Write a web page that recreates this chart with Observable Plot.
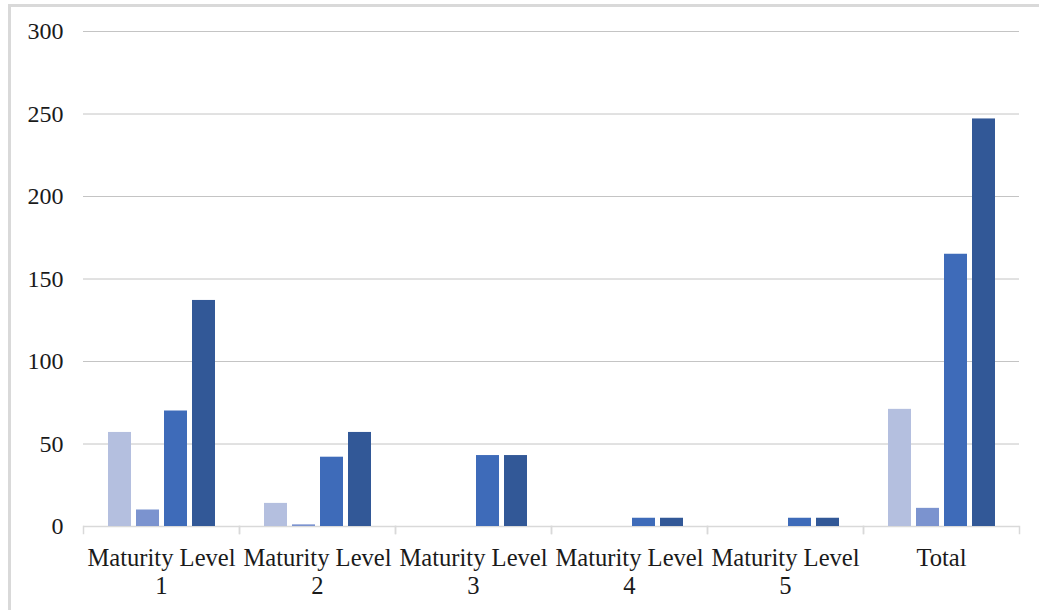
<!DOCTYPE html>
<html>
<head>
<meta charset="utf-8">
<script src="https://cdn.jsdelivr.net/npm/d3@7"></script>
<script src="https://cdn.jsdelivr.net/npm/@observablehq/plot@0.6"></script>
<style>
  html, body { margin: 0; padding: 0; background: #fff; overflow: hidden; }
  #wrap { position: relative; width: 1039px; height: 610px; }
  #border { position: absolute; left: 8px; top: 4px; width: 1100px; height: 700px;
            border-left: 3px solid #d9d9d9; border-top: 3px solid #d9d9d9; box-sizing: border-box; }
  #chart { position: absolute; left: 0; top: 0; }
</style>
</head>
<body>
<div id="wrap"><div id="border"></div><div id="chart"></div></div>
<script>
const categories = ["Maturity Level 1", "Maturity Level 2", "Maturity Level 3", "Maturity Level 4", "Maturity Level 5", "Total"];
const seriesNames = ["Series 1", "Series 2", "Series 3", "Series 4"];
const series1 = [57, 14, 0, 0, 0, 71];
const series2 = [10, 1, 0, 0, 0, 11];
const series3 = [70, 42, 43, 5, 5, 165];
const series4 = [137, 57, 43, 5, 5, 247];
const colors = ["#b4bfdf", "#7b93cf", "#3e6bb9", "#325897"];
const yTicks = [0, 50, 100, 150, 200, 250, 300];

const allSeries = [series1, series2, series3, series4];
const data = [];
categories.forEach((c, i) => {
  allSeries.forEach((s, j) => {
    data.push({category: c, series: seriesNames[j], value: s[i]});
  });
});

const font = "'Liberation Serif', 'Times New Roman', serif";

const chart = Plot.plot({
  width: 1039,
  height: 610,
  marginLeft: 82,
  marginRight: 19,
  marginTop: 31,
  marginBottom: 84,
  style: {fontFamily: font, background: "transparent", color: "#1a1a1a"},
  fx: {domain: categories, padding: 0, label: null},
  x: {domain: seriesNames, paddingInner: 0.19, paddingOuter: 0.84, axis: null},
  y: {domain: [0, 300], label: null},
  color: {domain: seriesNames, range: colors},
  marks: [
    Plot.gridY(yTicks, {stroke: "#c4c4c4", strokeOpacity: 1}),
    Plot.ruleY([0], {stroke: "#d9d9d9", strokeWidth: 1.5}),
    Plot.frame({anchor: "left", stroke: "#d9d9d9", strokeWidth: 1.5, insetTop: 495, insetBottom: -7}),
    Plot.frame({anchor: "right", stroke: "#d9d9d9", strokeWidth: 1.5, insetTop: 495, insetBottom: -7}),
    Plot.barY(data.filter(d => d.value > 0), {fx: "category", x: "series", y: "value", fill: "series"}),
    Plot.axisY(yTicks, {tickSize: 0, tickPadding: 20, fontSize: 24, label: null, fill: "#1a1a1a"}),
    Plot.axisFx({anchor: "bottom", tickSize: 0, tickPadding: 20, fontSize: 24.6, lineHeight: 1.13,
      label: null, fill: "#1a1a1a", tickFormat: d => d.replace(" Level ", " Level\n")})
  ]
});
document.getElementById("chart").appendChild(chart);
</script>
</body>
</html>
